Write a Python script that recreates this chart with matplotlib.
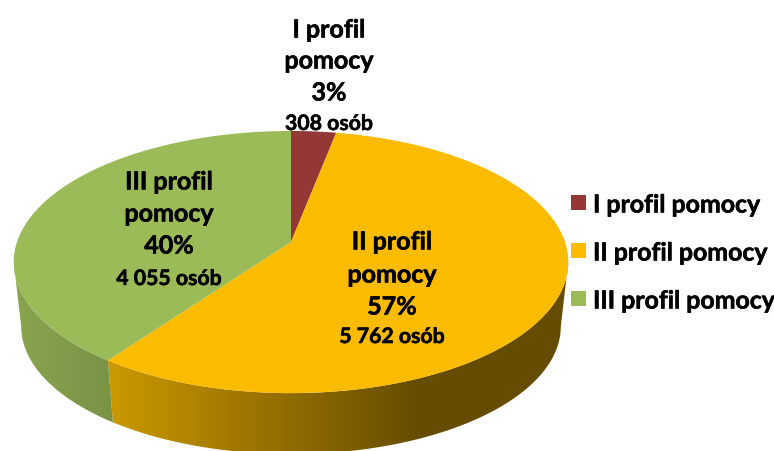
import numpy as np
import matplotlib.pyplot as plt
import matplotlib.patheffects as pe
from matplotlib.colors import LinearSegmentedColormap
from matplotlib.patches import Polygon, Rectangle

names = ['I profil pomocy', 'II profil pomocy', 'III profil pomocy']
label_lines = [['I profil', 'pomocy'], ['II profil', 'pomocy'], ['III profil', 'pomocy']]
people = [308, 5762, 4055]
colors = ['#953735', '#FBBC00', '#9BBB59']

W, H = 774, 451
plt.rcParams['font.family'] = ['Lato', 'DejaVu Sans']

fig = plt.figure(figsize=(W / 100, H / 100), dpi=100)
ax = fig.add_axes([0, 0, 1, 1])
ax.set_xlim(0, W)
ax.set_ylim(H, 0)
ax.axis('off')

# pie in perspective: circle is projected so the far half looks shorter
CX, CY = 291, 242
RX, RY, K = 274, 128, 0.153
DROP_Y, DROP_SCALE = 65, 0.973
# Lato bold is a little lighter than the original font
HEAVY = [pe.withStroke(linewidth=0.4, foreground='black')]


def rim(theta, bottom=False):
    u, v = np.sin(theta), np.cos(theta)
    d = 1 + K * v
    x, y = RX * u / d, -RY * v / d
    if bottom:
        return CX + x * DROP_SCALE, CY + DROP_Y + y * DROP_SCALE
    return CX + x, CY + y


def side(t0, t1, stops, cname):
    t = np.linspace(t0, t1, 200)
    xa, ya = rim(t)
    xb, yb = rim(t, bottom=True)
    pts = np.column_stack([np.r_[xa, xb[::-1]], np.r_[ya, yb[::-1]]])
    poly = Polygon(pts, closed=True, fc='none', ec='none')
    ax.add_patch(poly)
    cmap = LinearSegmentedColormap.from_list(cname, stops)
    im = ax.imshow(np.linspace(0, 1, 256)[None, :], cmap=cmap, aspect='auto',
                   extent=[pts[:, 0].min(), pts[:, 0].max(), H, 0], zorder=1)
    im.set_clip_path(poly)


fracs = np.array(people) / sum(people)
edges = np.r_[0, np.cumsum(fracs)] * 2 * np.pi
edge_view = np.arccos(-K)  # where the outline turns, left and right

side(edge_view, edges[2], [(0, '#CC9900'), (0.40, '#8F6B00'), (0.68, '#664C00'), (1, '#664C00')], 'orange_side')
side(edges[2], 2 * np.pi - edge_view, [(0, '#89A54F'), (0.6, '#7F9A4A'), (1, '#789247')], 'green_side')
ax.set_xlim(0, W)
ax.set_ylim(H, 0)

for i in range(3):
    t = np.linspace(edges[i], edges[i + 1], 200)
    x, y = rim(t)
    ax.fill(np.r_[CX, x], np.r_[CY, y], color=colors[i], lw=0, zorder=2)

# data labels
label_x = [329, 392, 169]
label_y = [[30, 61, 93, 124], [242, 275, 307, 337], [182, 214, 246, 279]]
for i in range(3):
    lines = label_lines[i] + ['%d%%' % round(fracs[i] * 100)]
    for j, s in enumerate(lines):
        ax.text(label_x[i], label_y[i][j], s, ha='center', va='center', fontsize=18,
                fontweight='bold', color='black', zorder=3, path_effects=HEAVY)
    count = f'{people[i]:,}'.replace(',', ' ') + ' osób'
    ax.text(label_x[i], label_y[i][3], count, ha='center', va='center', fontsize=15.3,
            fontweight='bold', color='black', zorder=3, path_effects=HEAVY)

# legend
leg_y = [203, 251, 299]
for name, col, y in zip(names, colors, leg_y):
    ax.add_patch(Rectangle((571, y - 8), 15, 15, fc=col, ec='none', zorder=3))
    ax.text(593, y + 2, name, ha='left', va='center', fontsize=17.9, fontweight='bold',
            color='black', zorder=3, path_effects=HEAVY)

fig.savefig('out.png', dpi=100)
